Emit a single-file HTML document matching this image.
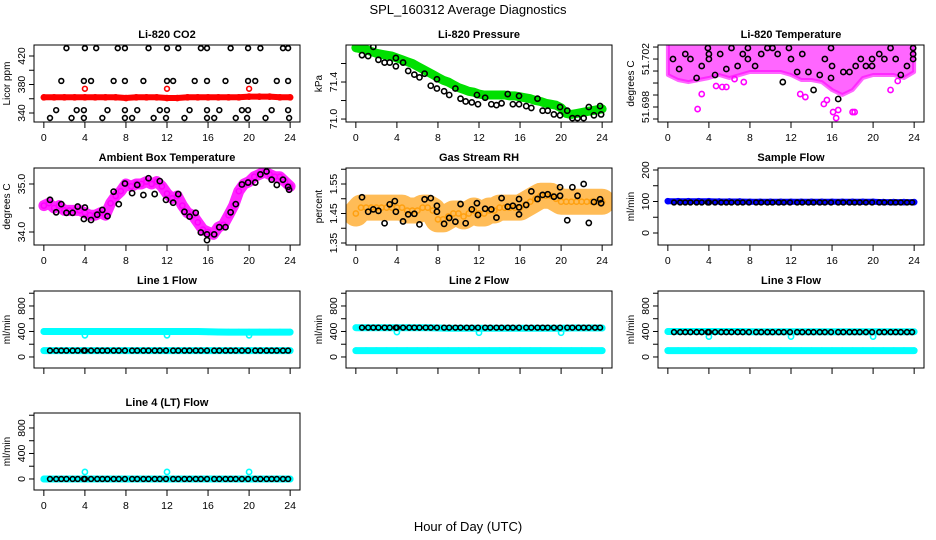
<!DOCTYPE html>
<html><head><meta charset="utf-8"><style>
html,body{margin:0;padding:0;background:#fff}
svg{display:block;font-family:"Liberation Sans",Arial,sans-serif}
</style></head><body>
<svg id="chart" width="936" height="540" viewBox="0 0 936 540">
<text x="468" y="14" text-anchor="middle" font-size="13">SPL_160312  Average Diagnostics</text>
<text x="468" y="531" text-anchor="middle" font-size="13">Hour of Day (UTC)</text>
</svg>
<script>
// ---------- DATA ----------
const hourly = [0,1,2,3,4,5,6,7,8,9,10,11,12,13,14,15,16,17,18,19,20,21,22,23,24];
const halfHours = [0,0.5,1,1.5,2,2.5,3,3.5,4,4.5,5,5.5,6,6.5,7,7.5,8,8.5,9,9.5,10,10.5,11,11.5,12,12.5,13,13.5,14,14.5,15,15.5,16,16.5,17,17.5,18,18.5,19,19.5,20,20.5,21,21.5,22,22.5,23,23.5,24];
const blackHours = [0.6,1.2,1.7,2.2,2.8,3.3,3.9,4.0,4.6,5.2,5.7,6.2,6.8,7.3,7.9,8.6,9.1,9.7,10.2,10.8,11.3,11.9,12.6,13.1,13.7,14.2,14.8,15.3,15.9,16.6,17.1,17.7,18.2,18.7,19.3,19.9,20.6,21.1,21.7,22.2,22.7,23.3,23.8];
const outlierHours = [4,12,20];

// CO2
const co2Red = [362,362,362,362,362,362,362,362,361,362,362,362,361,361,362,362,362,362,362,362,363,363,363,362,362];
const co2RedOutliers = [374,374,374];
const co2TopHours = [2.2,4.0,5.1,7.2,7.9,10.2,12.0,13.1,15.3,15.9,18.2,19.9,21.1,23.3,23.8];
const co2TopVals = [431,431,431,431,431,431,431,431,431,431,431,431,431,431,431];
const co2MidHours = [1.7,3.9,4.6,6.8,7.9,9.7,12.0,12.6,14.7,15.9,17.7,19.9,20.6,22.7,23.8];
const co2MidVals = [385,385,385,385,385,385,385,385,385,385,385,385,385,385,385];
const co2LowHours = [1.2,3.2,3.9,6.2,7.9,9.1,11.3,12.0,14.2,15.9,17.1,19.3,19.9,22.2,23.8];
const co2LowVals = [344,344,344,344,344,344,344,344,344,344,344,344,344,344,344];
const co2BotHours = [0.6,2.7,3.9,5.7,7.9,8.6,10.7,11.9,13.7,15.9,16.6,18.7,19.8,21.6,23.9];
const co2BotVals = [333,333,333,333,333,333,333,333,333,333,333,333,333,333,333];

// Pressure
const presGreen = [71.77,71.76,71.75,71.73,71.71,71.70,71.69,71.68,71.66,71.64,71.62,71.60,71.57,71.54,71.51,71.48,71.45,71.42,71.40,71.37,71.34,71.32,71.30,71.29,71.27,71.26,71.26,71.26,71.26,71.26,71.25,71.25,71.24,71.23,71.22,71.20,71.19,71.17,71.16,71.15,71.12,71.06,71.05,71.06,71.07,71.08,71.09,71.10,71.11];
const presBlackHours = [0.6,1.2,1.7,2.2,2.8,3.3,3.9,3.9,4.6,5.1,5.7,6.2,6.7,7.3,7.9,7.9,8.6,9.1,9.7,10.2,10.7,11.3,11.8,11.9,12.6,13.2,13.7,14.2,14.8,15.3,15.9,15.9,16.6,17.1,17.7,18.2,18.7,19.3,19.9,19.9,20.6,21.1,21.6,22.2,22.7,23.2,23.8,23.9];
const presBlackVals = [71.69,71.68,71.78,71.64,71.61,71.61,71.66,71.57,71.61,71.52,71.48,71.45,71.49,71.36,71.33,71.43,71.30,71.26,71.33,71.22,71.19,71.18,71.26,71.16,71.23,71.16,71.15,71.17,71.27,71.16,71.25,71.16,71.14,71.12,71.22,71.09,71.09,71.05,71.13,71.04,71.09,71.01,71.01,71.01,71.13,71.04,71.14,71.05];

// Li-820 temperature
const ltempLowEdge = [51.70067,51.70025,51.70008,51.70025,51.70042,51.70067,51.70042,51.70067,51.70092,51.70092,51.70092,51.70092,51.70067,51.70025,51.70025,51.70008,51.69942,51.69900,51.69942,51.70042,51.70067,51.70067,51.70067,51.70042,51.70092];
const ltempOutHours = [2.9,3.3,4.7,5.3,5.7,6.5,7.4,12.9,13.4,15.2,15.5,16.1,16.4,16.6,18.0,18.2,21.7,22.4];
const ltempOutVals = [51.69783,51.69908,51.69975,51.69967,51.69967,51.70033,51.70008,51.69908,51.69883,51.69825,51.69858,51.69758,51.69708,51.69775,51.69758,51.69758,51.69942,51.70017];
const ltempBlackHours = [0.5,1.1,1.7,2.2,2.8,3.3,3.9,4.0,4.0,4.6,5.1,5.7,6.2,6.8,7.3,7.8,7.8,8.5,9.1,9.7,10.2,10.7,11.2,11.8,12.0,12.6,13.1,13.7,14.2,14.8,15.3,15.9,15.9,16.0,16.6,17.1,17.7,18.3,18.8,19.3,19.9,19.9,20.6,21.1,21.7,22.2,22.7,23.3,23.9,23.9,23.9];
const ltempBlackVals = [51.702,51.70117,51.70242,51.702,51.70042,51.70142,51.70292,51.702,51.70242,51.70067,51.70242,51.70117,51.70292,51.70142,51.70242,51.70292,51.702,51.70142,51.70242,51.70292,51.70292,51.70242,51.70008,51.70292,51.702,51.70092,51.70242,51.70092,51.69942,51.70067,51.702,51.70292,51.70042,51.70142,51.69867,51.70092,51.70092,51.70142,51.702,51.70142,51.70142,51.702,51.70242,51.702,51.70292,51.702,51.70067,51.70142,51.70292,51.70242,51.702];

// Ambient box temperature
const ambBand = [34.55,34.6,34.5,34.55,34.45,34.45,34.45,34.45,34.4,34.35,34.35,34.4,34.35,34.6,34.75,34.85,35.0,34.95,35.0,35.0,35.05,35.0,35.05,34.95,34.8,34.7,34.75,34.55,34.4,34.35,34.2,34.05,34.0,33.95,34.1,34.15,34.35,34.55,34.85,35.0,35.05,35.15,35.2,35.25,35.2,35.15,35.15,35.05,34.95];
const ambBlackHours = [0.6,1.2,1.7,2.2,2.8,3.3,3.9,4.0,4.6,5.2,5.7,6.2,6.8,7.3,7.9,8.6,9.1,9.7,10.2,10.8,11.3,11.9,12.6,13.1,13.7,14.2,14.8,15.3,15.9,15.9,16.6,17.1,17.7,18.2,18.7,19.3,19.9,20.6,21.1,21.7,22.2,22.7,23.3,23.8,23.9];
const ambBlackVals = [34.67,34.41,34.58,34.40,34.40,34.53,34.27,34.51,34.25,34.36,34.46,34.33,34.84,34.58,35.01,34.81,34.98,34.77,35.12,34.79,35.06,34.67,34.61,34.79,34.42,34.32,34.40,33.99,33.95,33.83,33.95,34.10,34.10,34.41,34.58,34.99,35.03,35.03,35.20,35.26,35.09,34.98,35.09,34.94,34.88];

// Gas stream RH
const rhBand = [1.45,1.47,1.47,1.47,1.47,1.47,1.47,1.47,1.47,1.47,1.46,1.46,1.46,1.47,1.47,1.46,1.43,1.43,1.44,1.45,1.45,1.44,1.45,1.46,1.45,1.45,1.46,1.46,1.47,1.47,1.47,1.47,1.47,1.48,1.49,1.50,1.51,1.51,1.51,1.50,1.49,1.49,1.49,1.49,1.49,1.49,1.49,1.49,1.49];
const rhBlackHours = [0.6,1.2,1.7,2.2,2.8,3.3,3.8,3.9,4.6,5.1,5.7,6.2,6.7,7.3,7.9,7.9,8.6,9.1,9.7,10.2,10.7,11.3,11.8,11.9,12.6,13.2,13.7,14.2,14.8,15.3,15.9,15.9,15.9,16.6,17.1,17.7,18.2,18.7,19.3,19.9,19.9,20.6,21.1,21.6,22.2,22.7,23.2,23.8,23.9];
const rhBlackVals = [1.505,1.456,1.464,1.459,1.417,1.481,1.492,1.456,1.423,1.447,1.449,1.413,1.498,1.502,1.476,1.456,1.415,1.435,1.422,1.482,1.417,1.464,1.485,1.445,1.466,1.464,1.436,1.502,1.473,1.476,1.499,1.471,1.447,1.479,1.525,1.499,1.513,1.515,1.507,1.510,1.539,1.427,1.539,1.510,1.550,1.418,1.489,1.498,1.485];

// Flows (hourly bands, black at blackHours)
const sampleBlue = [101,101,101,101,101,100,100,100,99,99,99,99,99,99,99,99,99,99,99,99,99,98,98,98,98];
const sampleBlack = [97,97,97,97,97,97,97,97,97,97,97,97,97,97,97,97,97,97,97,97,97,97,97,97,97,97,97,97,97,97,97,97,97,97,97,97,97,97,97,97,97,97,97];
const line1CyanHi = [400,400,400,400,400,400,400,400,400,400,400,400,400,400,400,400,395,392,390,390,390,390,390,390,390];
const line1CyanLo = [100,100,100,100,100,100,100,100,100,100,100,100,100,100,100,100,100,100,100,100,100,100,100,100,100];
const line1Black = [100,100,100,100,100,100,100,100,100,100,100,100,100,100,100,100,100,100,100,100,100,100,100,100,100,100,100,100,100,100,100,100,100,100,100,100,100,100,100,100,100,100,100];
const line1Out = [340,340,340];
const line2CyanHi = [460,460,460,460,460,460,460,460,455,450,450,450,450,450,450,450,450,450,450,450,450,455,455,455,455];
const line2CyanLo = [100,100,100,100,100,100,100,100,100,100,100,100,100,100,100,100,100,100,100,100,100,100,100,100,100];
const line2Black = [460,460,460,460,460,460,460,460,460,460,460,460,460,460,460,460,460,460,460,460,460,460,460,460,460,460,460,460,460,460,460,460,460,460,460,460,460,460,460,460,460,460,460];
const line2Out = [390,380,380];
const line3CyanHi = [400,400,400,400,400,400,400,400,395,395,395,395,395,395,395,395,395,395,395,395,395,395,395,395,395];
const line3CyanLo = [100,100,100,100,100,100,100,100,100,100,100,100,100,100,100,100,100,100,100,100,100,100,100,100,100];
const line3Black = [390,390,390,390,390,390,390,390,390,390,390,390,390,390,390,390,390,390,390,390,390,390,390,390,390,390,390,390,390,390,390,390,390,390,390,390,390,390,390,390,390,390,390];
const line3Out = [320,320,320];
const line4Cyan = [0,0,0,0,0,0,0,0,0,0,0,0,0,0,0,0,0,0,0,0,0,0,0,0,0];
const line4Black = [0,0,0,0,0,0,0,0,0,0,0,0,0,0,0,0,0,0,0,0,0,0,0,0,0,0,0,0,0,0,0,0,0,0,0,0,0,0,0,0,0,0,0];
const line4Out = [110,110,110];

// Tick labels
const co2Ticks = [340,360,380,400,420];
const co2Labels = ["340","","380","","420"];
const presTicks = [71.0,71.2,71.4,71.6];
const presLabels = ["71.0","","71.4",""];
const ltempTicks = [51.697,51.698,51.699,51.700,51.701,51.702,51.703];
const ltempLabels = ["","51.698","","","","51.702",""];
const ambTicks = [34.0,34.5,35.0];
const ambLabels = ["34.0","","35.0"];
const rhTicks = [1.35,1.40,1.45,1.50,1.55,1.60];
const rhLabels = ["1.35","","1.45","","1.55",""];
const sampleTicks = [0,50,100,150,200];
const sampleLabels = ["0","","100","","200"];
const flowTicks = [0,200,400,600,800,1000];
const flowLabels = ["0","","400","","800",""];
const xTicks = [0,4,8,12,16,20,24];

// ---------- DRAWING ----------
const NS = "http://www.w3.org/2000/svg";
const svg = document.getElementById("chart");
function mk(tag, attrs, parent){
  const e = document.createElementNS(NS, tag);
  for (const k in attrs) e.setAttribute(k, attrs[k]);
  (parent||svg).appendChild(e);
  return e;
}
const colLeft = [34,346,658];
const rowTop = [45,168,291,413];
const BW = 266, BH = 77;

function panel(col,row,name,title,ylab,ymin,ymax,ticks,labels,xlabels){
  const L = colLeft[col], T = rowTop[row];
  const g = mk("g",{});
  
  
  const xs = h => L + 9.85 + h * (BW/1.08/24);
  const ys = v => T + (ymax - v) / (ymax - ymin) * BH;
  const clipId = "clip-" + name;
  const cp = mk("clipPath",{id:clipId},g);
  mk("rect",{x:L,y:T,width:BW,height:BH},cp);
  const plot = mk("g",{"clip-path":"url(#"+clipId+")"},g);
  
  
  const box = mk("rect",{x:L,y:T,width:BW,height:BH,fill:"none",stroke:"#000","stroke-width":1},g);
  
  
  const t = mk("text",{x:L+BW/2,y:T-7,"text-anchor":"middle","font-size":11,"font-weight":"bold"},g);
  t.textContent = title;
  
  
  const xa = mk("g",{},g);
  
  
  mk("line",{x1:xs(0),x2:xs(24),y1:T+BH,y2:T+BH,stroke:"#000"},xa);
  xTicks.forEach(h=>{
    mk("line",{x1:xs(h),x2:xs(h),y1:T+BH,y2:T+BH+6,stroke:"#000"},xa);
    if (xlabels){
      const tx = mk("text",{x:xs(h),y:T+BH+19,"text-anchor":"middle","font-size":10.5},xa);
      tx.textContent = String(h);
    }
  });
  const ya = mk("g",{},g);
  
  
  ticks.forEach((v,i)=>{
    const y = ys(v);
    mk("line",{x1:L-5,x2:L,y1:y,y2:y,stroke:"#000"},ya);
    if (labels[i]){
      const tx = mk("text",{x:L-9,y:y,"text-anchor":"middle","font-size":10.5,transform:"rotate(-90 "+(L-9)+" "+y+")"},ya);
      tx.textContent = labels[i];
    }
  });
  const yl = mk("text",{x:L-24,y:T+BH/2,"text-anchor":"middle","font-size":10,transform:"rotate(-90 "+(L-24)+" "+(T+BH/2)+")"},g);
  yl.textContent = ylab;
  
  
  return {xs,ys,plot};
}
function band(p,hours,vals,color,w,name,op){
  const pts = hours.map((h,i)=>p.xs(h).toFixed(1)+","+p.ys(vals[i]).toFixed(1)).join(" ");
  const e = mk("polyline",{points:pts,fill:"none",stroke:color,"stroke-width":w,"stroke-opacity":op||1,"stroke-linejoin":"round","stroke-linecap":"round"},p.plot);
  
  
  hours.forEach((h,i)=>{
    mk("circle",{cx:p.xs(h),cy:p.ys(vals[i]),r:2.6,fill:"none",stroke:color,"stroke-width":1.5},p.plot);
  });
}
function points(p,hours,vals,color,name,r){
  const g = mk("g",{},p.plot);
  
  
  hours.forEach((h,i)=>{
    const c = mk("circle",{cx:p.xs(h),cy:p.ys(vals[i]),r:r||2.6,fill:"none",stroke:color,"stroke-width":1.6},g);
    
    
  });
}

// Li-820 CO2
let p = panel(0,0,"co2","Li-820 CO2","Licor ppm",327.37,435.44,co2Ticks,co2Labels,true);
band(p,hourly,co2Red,"#ff0000",6,"co2-red-series");
points(p,outlierHours,co2RedOutliers,"#ff0000","co2-red-outliers",2.4);
points(p,co2TopHours,co2TopVals,"#000","co2-black-top",2.4);
points(p,co2MidHours,co2MidVals,"#000","co2-black-mid",2.4);
points(p,co2LowHours,co2LowVals,"#000","co2-black-low",2.4);
points(p,co2BotHours,co2BotVals,"#000","co2-black-bottom",2.4);

// Pressure
p = panel(1,0,"pressure","Li-820 Pressure","kPa",70.968,71.8,presTicks,presLabels,true);
band(p,halfHours,presGreen,"#00e000",9,"pressure-green-series");
points(p,presBlackHours,presBlackVals,"#000","pressure-black-series");

// Li-820 Temperature
p = panel(2,0,"li820-temp","Li-820 Temperature","degrees C",51.69675,51.70317,ltempTicks,ltempLabels,true);
{
  const top = hourly.map(h=>p.xs(h).toFixed(1)+","+(p.ys(51.7035)).toFixed(1));
  const bot = hourly.slice().reverse().map((h,i)=>p.xs(h).toFixed(1)+","+p.ys(ltempLowEdge[hourly.length-1-i]).toFixed(1));
  const poly = mk("polygon",{points:top.concat(bot).join(" "),fill:"#ff00ff","fill-opacity":0.6,stroke:"#ff00ff","stroke-opacity":0.6,"stroke-width":4,"stroke-linejoin":"round"},p.plot);
  
  
}
points(p,ltempOutHours,ltempOutVals,"#ff00ff","li820-temp-magenta-outliers");
points(p,ltempBlackHours,ltempBlackVals,"#000","li820-temp-black-series");

// Ambient box temperature
p = panel(0,1,"ambient-temp","Ambient Box Temperature","degrees C",33.729,35.333,ambTicks,ambLabels,true);
band(p,halfHours,ambBand,"#ff00ff",11,"ambient-magenta-series",0.85);
points(p,ambBlackHours,ambBlackVals,"#000","ambient-black-series");

// Gas stream RH
p = panel(1,1,"gas-rh","Gas Stream RH","percent",1.3432,1.6042,rhTicks,rhLabels,true);
band(p,halfHours,rhBand,"#ffa010",26,"rh-orange-series",0.7);
points(p,rhBlackHours,rhBlackVals,"#000","rh-black-series");

// Sample flow
p = panel(2,1,"sample-flow","Sample Flow","ml/min",-38.1,206.3,sampleTicks,sampleLabels,true);
band(p,hourly,sampleBlue,"#0000ff",6,"sample-blue-series");
points(p,blackHours,sampleBlack,"#000","sample-black-series",2.4);

// Line flows
p = panel(0,2,"line1-flow","Line 1 Flow","ml/min",-173,1035,flowTicks,flowLabels,false);
band(p,hourly,line1CyanHi,"#00ffff",7,"line1-cyan-high");
band(p,hourly,line1CyanLo,"#00ffff",7,"line1-cyan-low");
points(p,outlierHours,line1Out,"#00ffff","line1-cyan-outliers");
points(p,blackHours,line1Black,"#000","line1-black-series",2.4);

p = panel(1,2,"line2-flow","Line 2 Flow","ml/min",-173,1035,flowTicks,flowLabels,false);
band(p,hourly,line2CyanHi,"#00ffff",7,"line2-cyan-high");
band(p,hourly,line2CyanLo,"#00ffff",7,"line2-cyan-low");
points(p,outlierHours,line2Out,"#00ffff","line2-cyan-outliers");
points(p,blackHours,line2Black,"#000","line2-black-series",2.4);

p = panel(2,2,"line3-flow","Line 3 Flow","ml/min",-173,1035,flowTicks,flowLabels,false);
band(p,hourly,line3CyanHi,"#00ffff",7,"line3-cyan-high");
band(p,hourly,line3CyanLo,"#00ffff",7,"line3-cyan-low");
points(p,outlierHours,line3Out,"#00ffff","line3-cyan-outliers");
points(p,blackHours,line3Black,"#000","line3-black-series",2.4);

p = panel(0,3,"line4-flow","Line 4 (LT) Flow","ml/min",-173,1035,flowTicks,flowLabels,true);
band(p,hourly,line4Cyan,"#00ffff",7,"line4-cyan-series");
points(p,outlierHours,line4Out,"#00ffff","line4-cyan-outliers");
points(p,blackHours,line4Black,"#000","line4-black-series",2.4);
</script>
</body></html>
